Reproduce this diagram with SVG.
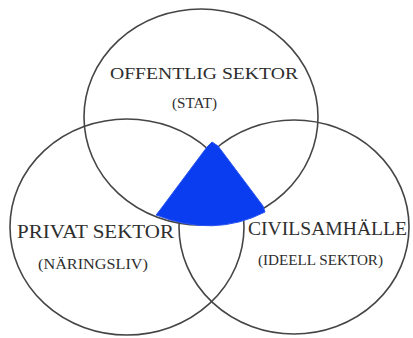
<svg xmlns="http://www.w3.org/2000/svg" width="413" height="338" viewBox="0 0 413 338">
  <style>
    .ring { fill: none; stroke: #454545; stroke-width: 1.6; }
    .lbl { font-family: "Liberation Serif", "Times New Roman", serif; fill: #2e2e2e; text-anchor: start; }
    .big { font-size: 19px; }
    .small { font-size: 14px; }
  </style>
  <rect width="413" height="338" fill="#ffffff"/>
  <g id="offentlig">
    <ellipse class="ring" cx="201" cy="117" rx="117" ry="108"/>
  </g>
  <g id="privat">
    <ellipse class="ring" cx="127" cy="227" rx="117" ry="108"/>
  </g>
  <g id="civil">
    <ellipse class="ring" cx="294" cy="227" rx="115" ry="107"/>
  </g>
  <g id="overlap">
    <path d="M 207,147 L 212,142 L 218,146 L 263,206 L 265,212 Q 214,238 156,215 L 160,210 Z" fill="#0a3cf0" stroke="#2a55f0" stroke-width="1"/>
  </g>
  <g id="labels">
    <text class="lbl" x="110" y="79" font-size="17.5" textLength="188" lengthAdjust="spacingAndGlyphs">OFFENTLIG SEKTOR</text>
    <text class="lbl small" x="172" y="108" textLength="45" lengthAdjust="spacingAndGlyphs">(STAT)</text>
    <text class="lbl big" x="17" y="238" textLength="157" lengthAdjust="spacingAndGlyphs">PRIVAT SEKTOR</text>
    <text class="lbl" x="38" y="269" font-size="15" textLength="110" lengthAdjust="spacingAndGlyphs">(NÄRINGSLIV)</text>
    <text class="lbl big" x="248" y="235" textLength="159" lengthAdjust="spacingAndGlyphs">CIVILSAMHÄLLE</text>
    <text class="lbl" x="258" y="265" font-size="15" textLength="125" lengthAdjust="spacingAndGlyphs">(IDEELL SEKTOR)</text>
  </g>
  <g id="connectors"/>
</svg>
